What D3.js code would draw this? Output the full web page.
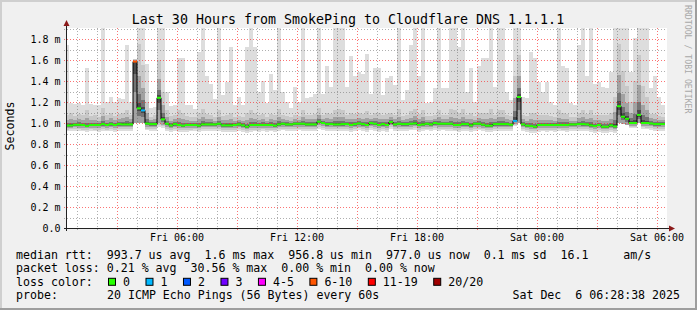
<!DOCTYPE html>
<html>
<head>
<meta charset="utf-8">
<script src="https://cdn.jsdelivr.net/npm/d3@7"></script>
<style>
html, body { margin: 0; padding: 0; background: #f0f0f0; }
svg { display: block; }
text { font-family: "DejaVu Sans Mono", monospace; fill: #000; }
</style>
</head>
<body>
<div id="chart"></div>
<script>
// ---- data (values in ms, one bin = 12 minutes) ----
const titleText = "Last 30 Hours from SmokePing to Cloudflare DNS 1.1.1.1";
const startTime = new Date(2025, 11, 5, 0, 30);
const endTime = new Date(2025, 11, 6, 6, 30);
const firstBin = new Date(2025, 11, 5, 0, 24);
const binMinutes = 12;

const rttMax = [
1.74,1.19,1.18,1.19,1.17,1.52,1.18,1.17,1.17,1.95,
1.20,1.25,1.20,1.24,1.23,1.74,1.20,1.61,1.95,1.95,
1.56,1.14,1.15,1.95,1.95,1.30,1.16,1.17,1.62,1.62,
1.17,1.17,1.13,1.68,1.95,1.45,1.37,1.23,1.95,1.27,
1.39,1.72,1.17,1.25,1.17,1.72,1.95,1.72,1.30,1.40,
1.19,1.47,1.31,1.95,1.30,1.20,1.14,1.34,1.20,1.95,
1.24,1.25,1.28,1.95,1.28,1.54,1.34,1.95,1.95,1.95,
1.34,1.64,1.45,1.49,1.47,1.66,1.28,1.52,1.52,1.27,
1.43,1.45,1.36,1.95,1.22,1.31,1.74,1.95,1.45,1.95,
1.19,1.20,1.33,1.95,1.33,1.33,1.95,1.95,1.72,1.95,
1.30,1.52,1.20,1.54,1.62,1.62,1.95,1.34,1.95,1.95,
1.30,1.22,1.95,1.95,1.25,1.24,1.68,1.62,1.39,1.30,
1.39,1.20,1.17,1.95,1.54,1.52,1.19,1.17,1.74,1.95,
1.45,1.95,1.37,1.39,1.34,1.33,1.49,1.95,1.95,1.95,
1.95,1.49,1.81,1.95,1.95,1.95,1.33,1.45,1.25,1.17];

const rttUpper = [
1.08,1.10,1.07,1.09,1.08,1.12,1.07,1.08,1.06,1.14,
1.08,1.10,1.07,1.09,1.10,1.12,1.08,1.61,1.75,1.55,
1.20,1.06,1.08,1.60,1.30,1.12,1.07,1.08,1.12,1.10,
1.07,1.06,1.06,1.10,1.13,1.09,1.08,1.06,1.12,1.07,
1.08,1.10,1.06,1.07,1.06,1.10,1.12,1.10,1.08,1.09,
1.06,1.09,1.08,1.13,1.08,1.07,1.06,1.08,1.07,1.12,
1.08,1.08,1.09,1.14,1.08,1.10,1.09,1.12,1.13,1.12,
1.08,1.10,1.09,1.10,1.09,1.11,1.08,1.10,1.10,1.08,
1.09,1.10,1.08,1.13,1.07,1.08,1.11,1.13,1.09,1.12,
1.07,1.07,1.08,1.12,1.08,1.08,1.13,1.12,1.10,1.13,
1.08,1.10,1.07,1.10,1.10,1.10,1.13,1.08,1.12,1.12,
1.08,1.07,1.45,1.65,1.08,1.07,1.10,1.10,1.08,1.08,
1.08,1.07,1.06,1.12,1.10,1.09,1.06,1.06,1.10,1.12,
1.09,1.12,1.08,1.08,1.08,1.08,1.10,1.25,1.75,1.50,
1.35,1.20,1.40,1.65,1.35,1.25,1.09,1.09,1.07,1.06];

const rttMedian = [
0.977,0.977,0.983,0.983,0.981,0.971,0.981,0.981,0.981,0.990,
0.981,0.990,0.981,0.990,0.987,0.987,0.987,1.585,1.140,1.120,
0.995,0.990,0.990,1.240,1.035,0.993,0.977,0.990,0.981,0.975,
0.981,0.981,0.981,0.975,0.987,0.987,0.987,0.987,0.993,0.978,
0.978,0.978,0.981,0.987,0.978,0.965,0.981,0.981,0.981,0.981,
0.981,0.981,0.975,0.987,0.993,0.987,0.987,0.993,0.993,0.993,
0.987,0.987,0.987,1.013,1.000,0.990,0.990,0.987,0.987,0.990,
0.990,0.981,0.990,0.996,0.990,0.981,1.000,0.993,0.981,0.990,
0.981,1.010,0.987,0.993,0.990,0.990,0.993,0.996,0.981,0.987,
0.993,0.987,1.000,0.993,0.993,0.993,0.993,0.981,0.981,0.990,
0.990,0.978,0.993,0.993,0.984,0.975,0.975,0.990,0.990,0.990,
0.990,0.984,1.020,1.248,0.987,0.975,0.971,0.965,0.981,0.981,
0.981,0.981,0.981,0.981,0.981,0.981,0.987,0.987,0.990,0.990,
0.987,0.978,0.971,0.981,0.965,0.965,0.978,0.968,1.160,1.060,
1.040,1.000,1.000,1.077,1.000,1.000,0.996,0.990,0.990,0.990];

const rttLower = [
0.955,0.956,0.958,0.957,0.956,0.950,0.957,0.956,0.955,0.962,
0.956,0.962,0.955,0.961,0.960,0.958,0.960,1.000,1.000,1.000,
0.965,0.962,0.960,1.000,0.985,0.962,0.952,0.960,0.955,0.950,
0.956,0.955,0.957,0.950,0.960,0.958,0.960,0.958,0.964,0.952,
0.953,0.952,0.956,0.960,0.952,0.942,0.955,0.956,0.955,0.957,
0.955,0.956,0.950,0.960,0.965,0.960,0.958,0.964,0.965,0.963,
0.960,0.958,0.960,0.982,0.972,0.962,0.963,0.960,0.958,0.962,
0.963,0.955,0.962,0.966,0.962,0.954,0.970,0.964,0.955,0.962,
0.954,0.978,0.960,0.964,0.962,0.961,0.965,0.967,0.955,0.960,
0.965,0.960,0.970,0.964,0.965,0.964,0.963,0.955,0.953,0.962,
0.962,0.950,0.964,0.965,0.957,0.948,0.950,0.962,0.961,0.962,
0.962,0.958,0.990,1.000,0.958,0.948,0.944,0.940,0.955,0.956,
0.955,0.956,0.955,0.957,0.956,0.955,0.960,0.961,0.963,0.962,
0.960,0.952,0.945,0.955,0.940,0.940,0.952,0.944,1.000,0.995,
0.985,0.975,0.975,1.000,0.972,0.972,0.968,0.962,0.962,0.963];

const rttMin = [
0.920,0.922,0.925,0.921,0.920,0.915,0.923,0.920,0.918,0.925,
0.920,0.926,0.918,0.924,0.925,0.920,0.924,1.000,1.000,1.000,
0.930,0.925,0.922,0.965,0.950,0.925,0.915,0.922,0.918,0.912,
0.918,0.920,0.921,0.912,0.925,0.922,0.925,0.920,0.928,0.915,
0.915,0.914,0.918,0.925,0.915,0.905,0.918,0.920,0.918,0.920,
0.918,0.920,0.912,0.925,0.930,0.925,0.922,0.928,0.930,0.928,
0.925,0.922,0.925,0.945,0.935,0.926,0.928,0.925,0.922,0.926,
0.928,0.918,0.926,0.930,0.926,0.918,0.935,0.928,0.918,0.926,
0.918,0.940,0.925,0.928,0.926,0.925,0.930,0.932,0.918,0.925,
0.930,0.925,0.935,0.928,0.930,0.928,0.928,0.920,0.917,0.926,
0.926,0.914,0.928,0.930,0.920,0.912,0.915,0.926,0.925,0.926,
0.926,0.922,0.975,1.000,0.920,0.910,0.908,0.905,0.918,0.920,
0.918,0.920,0.918,0.921,0.920,0.918,0.925,0.926,0.928,0.926,
0.925,0.915,0.908,0.918,0.905,0.905,0.915,0.908,1.000,1.000,
0.990,0.950,0.950,1.000,0.945,0.940,0.932,0.926,0.926,0.928];

// lost pings (of 20) per bin
const lostPings = [
0,0,0,0,0,0,0,0,0,0, 0,0,0,0,0,0,0,8,0,1, 0,0,0,0,0,0,0,0,0,0,
0,0,0,0,0,0,0,0,0,0, 0,0,0,0,0,0,0,0,0,0, 0,0,0,0,0,0,0,0,0,0,
0,0,0,0,0,0,0,0,0,0, 0,0,0,0,0,0,0,0,0,0, 0,0,0,0,0,0,0,0,0,0,
0,0,0,0,0,0,0,0,0,0, 0,0,0,0,0,0,0,0,0,0, 0,0,1,0,0,0,0,0,0,0,
0,0,0,0,0,0,0,0,0,0, 0,0,0,0,0,0,0,0,0,0, 0,0,0,0,0,0,0,0,0,0];

const lossLabels = ["0", "1", "2", "3", "4-5", "6-10", "11-19", "20/20"];
const lossMaxCount = [0, 1, 2, 3, 5, 10, 19, 20];
const lossColors = ["#26ff00", "#00b8ff", "#0059ff", "#7000ff", "#ff00ff", "#ff5500", "#ff0000", "#a00000"];

const yTickValues = [0, 0.2, 0.4, 0.6, 0.8, 1.0, 1.2, 1.4, 1.6, 1.8];
const yTickLabels = ["0.0", "0.2 m", "0.4 m", "0.6 m", "0.8 m", "1.0 m", "1.2 m", "1.4 m", "1.6 m", "1.8 m"];

const legendRows = [
    "median rtt:  993.7 us avg  1.6 ms max  956.8 us min  977.0 us now  0.1 ms sd  16.1     am/s",
    "packet loss: 0.21 % avg  30.56 % max  0.00 % min  0.00 % now"
];
const probeText = "20 ICMP Echo Pings (56 Bytes) every 60s";
const stampText = "Sat Dec  6 06:28:38 2025";

// ---- drawing ----
const W = 697, H = 310;
const plot = { left: 67, right: 667, top: 28, bottom: 228 };

const svg = d3.select("#chart").append("svg").attr("width", W).attr("height", H);

svg.append("rect").attr("width", W).attr("height", H).attr("fill", "#f0f0f0");
svg.append("path").attr("d", `M1,${H} V1 H${W}`).attr("fill", "none").attr("stroke", "#cfcfcf").attr("stroke-width", 2);
svg.append("path").attr("d", `M0,${H - 1} H${W - 1} V0`).attr("fill", "none").attr("stroke", "#9e9e9e").attr("stroke-width", 2);

const x = d3.scaleTime().domain([startTime, endTime]).range([plot.left, plot.right]);
const y = d3.scaleLinear().domain([0, 1.905]).range([plot.bottom, plot.top]);

svg.append("rect").attr("x", plot.left).attr("y", plot.top)
    .attr("width", plot.right - plot.left).attr("height", plot.bottom - plot.top).attr("fill", "#fff");

svg.append("clipPath").attr("id", "clip").append("rect")
    .attr("x", plot.left).attr("y", plot.top)
    .attr("width", plot.right - plot.left).attr("height", plot.bottom - plot.top);

const bins = rttMedian.map((m, i) => {
    const t0 = d3.timeMinute.offset(firstBin, i * binMinutes);
    const t1 = d3.timeMinute.offset(firstBin, (i + 1) * binMinutes);
    let li = lossMaxCount.findIndex(c => lostPings[i] <= c);
    return { t0, t1, max: rttMax[i], up: rttUpper[i], med: m, lo: rttLower[i], min: rttMin[i], color: lossColors[li] };
});

const lerp = (a, b, t) => a + (b - a) * t;
const smokeLayers = [
    { fill: "#dddddd", bot: d => d.min, top: d => d.max },
    { fill: "#c8c8c8", bot: d => lerp(d.min, d.lo, 0.5), top: d => d.up },
    { fill: "#a2a2a2", bot: d => d.lo, top: d => lerp(d.med, d.up, 0.5) },
    { fill: "#747474", bot: d => lerp(d.lo, d.med, 0.5), top: d => lerp(d.med, d.up, 0.22) },
    { fill: "#4a4a4a", bot: d => lerp(d.lo, d.med, 0.8), top: d => lerp(d.med, d.up, 0.08) }
];

const smoke = svg.append("g").attr("clip-path", "url(#clip)").attr("shape-rendering", "crispEdges");
smokeLayers.forEach(layer => {
    smoke.append("g").selectAll("rect").data(bins).join("rect")
        .attr("x", d => x(d.t0))
        .attr("width", d => x(d.t1) - x(d.t0))
        .attr("y", d => y(layer.top(d)))
        .attr("height", d => Math.max(0, y(layer.bot(d)) - y(layer.top(d))))
        .attr("fill", layer.fill);
});

// grid (drawn over the smoke, like rrdtool)
const grid = svg.append("g").attr("shape-rendering", "crispEdges").attr("stroke-dasharray", "1,2");
const minorY = d3.range(1, 20).filter(i => i % 2 === 1).map(i => i / 10);
const majorY = d3.range(1, 10).map(i => i / 5);
const hours = d3.timeHour.range(startTime, endTime);
const minorX = hours.filter(h => h.getHours() % 3 !== 0);
const majorX = hours.filter(h => h.getHours() % 3 === 0);
const minorColor = "rgba(110,110,110,0.55)";
const majorColor = "rgba(250,40,40,0.65)";

grid.selectAll(".gy").data(minorY).join("line")
    .attr("x1", plot.left - 3).attr("x2", plot.right)
    .attr("y1", d => Math.round(y(d)) + 0.5).attr("y2", d => Math.round(y(d)) + 0.5)
    .attr("stroke", minorColor);
grid.selectAll(".gx").data(minorX).join("line")
    .attr("x1", d => Math.round(x(d)) + 0.5).attr("x2", d => Math.round(x(d)) + 0.5)
    .attr("y1", plot.top).attr("y2", plot.bottom + 3)
    .attr("stroke", minorColor);
grid.selectAll(".my").data(majorY).join("line")
    .attr("x1", plot.left - 3).attr("x2", plot.right)
    .attr("y1", d => Math.round(y(d)) + 0.5).attr("y2", d => Math.round(y(d)) + 0.5)
    .attr("stroke", majorColor);
grid.selectAll(".mx").data(majorX).join("line")
    .attr("x1", d => Math.round(x(d)) + 0.5).attr("x2", d => Math.round(x(d)) + 0.5)
    .attr("y1", plot.top).attr("y2", plot.bottom + 3)
    .attr("stroke", majorColor);

// median: black step line, then loss coloured segments
const stepPoints = bins.map(d => [x(d.t0), y(d.med)]);
stepPoints.push([x(bins[bins.length - 1].t1), y(bins[bins.length - 1].med)]);
const medianG = svg.append("g").attr("clip-path", "url(#clip)");
medianG.append("path")
    .attr("d", d3.line().curve(d3.curveStepAfter)(stepPoints))
    .attr("fill", "none").attr("stroke", "#000").attr("stroke-width", 1);
medianG.selectAll("line").data(bins).join("line")
    .attr("x1", d => x(d.t0)).attr("x2", d => x(d.t1))
    .attr("y1", d => y(d.med)).attr("y2", d => y(d.med))
    .attr("stroke", d => d.color).attr("stroke-width", 2);

// axes
const axisColor = "#222";
svg.append("line").attr("x1", plot.left - 3).attr("x2", plot.right + 4)
    .attr("y1", plot.bottom + 0.5).attr("y2", plot.bottom + 0.5).attr("stroke", axisColor);
svg.append("line").attr("x1", plot.left - 0.5).attr("x2", plot.left - 0.5)
    .attr("y1", plot.bottom + 3).attr("y2", plot.top - 4).attr("stroke", axisColor);
svg.append("path").attr("d", `M${plot.left - 3.5},${plot.top - 2} L${plot.left - 0.5},${plot.top - 8} L${plot.left + 2.5},${plot.top - 2} Z`)
    .attr("fill", "#8b1a1a");
svg.append("path").attr("d", `M${plot.right + 2},${plot.bottom - 2.5} L${plot.right + 8},${plot.bottom + 0.5} L${plot.right + 2},${plot.bottom + 3.5} Z`)
    .attr("fill", "#8b1a1a");

// tick labels
svg.append("g").selectAll("text").data(yTickValues).join("text")
    .attr("x", 60.5).attr("y", d => y(d) + 3.5)
    .attr("text-anchor", "end").attr("font-size", 10)
    .style("white-space", "pre")
    .text((d, i) => yTickLabels[i]);

const labelTimes = hours.filter(h => h.getHours() % 6 === 0);
const fmt = d3.timeFormat("%a %H:%M");
svg.append("g").selectAll("text").data(labelTimes).join("text")
    .attr("x", d => x(d)).attr("y", 240.7)
    .attr("text-anchor", "middle").attr("font-size", 10)
    .text(d => fmt(d));

// titles
svg.append("text").attr("x", 348).attr("y", 24).attr("text-anchor", "middle")
    .attr("font-size", 13.3).text(titleText);
svg.append("text").attr("transform", "translate(14,126) rotate(-90)")
    .attr("text-anchor", "middle").attr("font-size", 11.6).text("Seconds");
svg.append("text").attr("transform", "translate(685,5) rotate(90)")
    .attr("font-size", 8.2).style("fill", "#a8a8a8").text("RRDTOOL / TOBI OETIKER");

// legend
const legendFont = 11.6;
const rowY = [258.5, 272.2, 285.8, 299.4];
legendRows.forEach((row, i) => {
    svg.append("text").attr("x", 16).attr("y", rowY[i]).attr("font-size", legendFont)
        .style("white-space", "pre").text(row);
});
svg.append("text").attr("x", 16).attr("y", rowY[2]).attr("font-size", legendFont).text("loss color:");
let sx = 108;
lossLabels.forEach((lab, i) => {
    svg.append("rect").attr("x", sx + 0.5).attr("y", rowY[2] - 7.5).attr("width", 7).attr("height", 7)
        .attr("fill", lossColors[i]).attr("stroke", "#000").attr("stroke-width", 1);
    const t = svg.append("text").attr("x", sx + 15).attr("y", rowY[2]).attr("font-size", legendFont).text(lab);
    sx = sx + 15 + t.node().getComputedTextLength() + 15.5;
});
svg.append("text").attr("x", 16).attr("y", rowY[3]).attr("font-size", legendFont).text("probe:");
svg.append("text").attr("x", 107).attr("y", rowY[3]).attr("font-size", legendFont).text(probeText);
svg.append("text").attr("x", 680).attr("y", rowY[3]).attr("text-anchor", "end").attr("font-size", legendFont)
    .style("white-space", "pre").text(stampText);
</script>
</body>
</html>
